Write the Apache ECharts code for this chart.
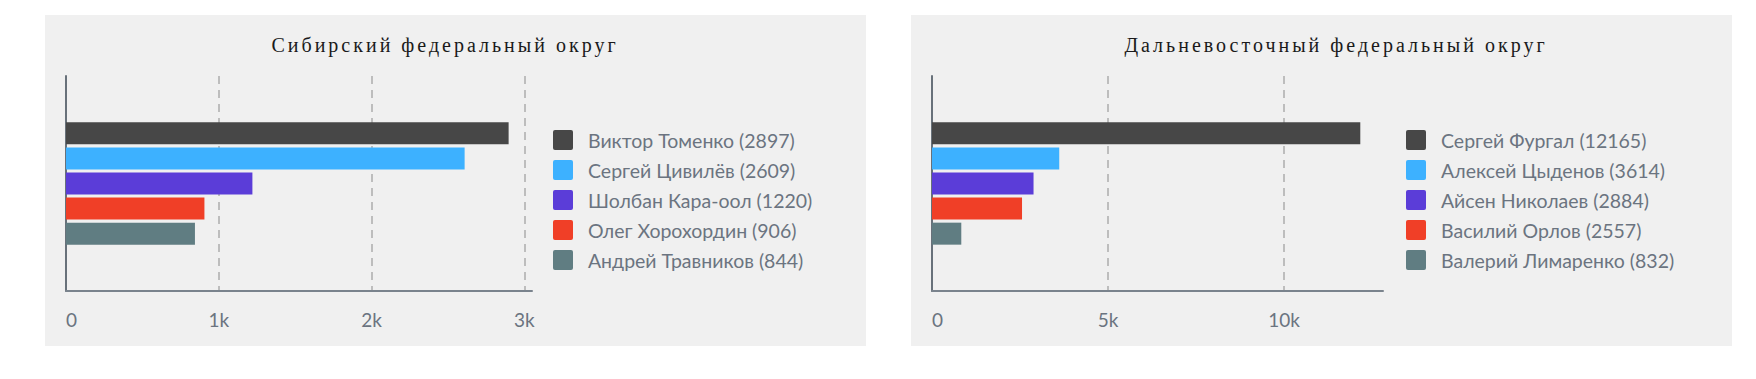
<!DOCTYPE html>
<html><head><meta charset="utf-8">
<script src="https://cdn.jsdelivr.net/npm/echarts@6/dist/echarts.min.js"></script>
<style>
html,body{margin:0;padding:0;background:#fff;width:1756px;height:379px;overflow:hidden;}
.panel{position:absolute;top:15px;width:821px;height:331px;background:#f0f0f0;}
#c1{left:45px}
#c2{left:911px}
svg text[style*="Liberation Serif"], svg text[font-family*="Liberation Serif"]{letter-spacing:3px;}
</style></head><body>
<div id="c1" class="panel"></div><div id="c2" class="panel"></div>
<script>
// ---- data ----
const barColors = ['#474747', '#3db1ff', '#5b3dd8', '#f03f27', '#607d82'];

const siberiaTitle = 'Сибирский федеральный округ';
const siberiaNames = ['Виктор Томенко', 'Сергей Цивилёв', 'Шолбан Кара-оол', 'Олег Хорохордин', 'Андрей Травников'];
const siberiaValues = [2897, 2609, 1220, 906, 844];
const siberiaTicks = [0, 1000, 2000, 3000];

const farEastTitle = 'Дальневосточный федеральный округ';
const farEastNames = ['Сергей Фургал', 'Алексей Цыденов', 'Айсен Николаев', 'Василий Орлов', 'Валерий Лимаренко'];
const farEastValues = [12165, 3614, 2884, 2557, 832];
const farEastTicks = [0, 5000, 10000];

const labelColor = '#6b7480';
const roundRectIcon = 'path://M2,0H18A2,2 0 0 1 20,2V18A2,2 0 0 1 18,20H2A2,2 0 0 1 0,18V2A2,2 0 0 1 2,0Z';

function fmtTick(v) { return v === 0 ? '0' : (v / 1000) + 'k'; }

function build(el, title, titleX, names, values, ticks, axisMax, gridRight, legendLeft) {
  const chart = echarts.init(document.getElementById(el), null, { renderer: 'svg' });
  const interval = ticks[1] - ticks[0];
  chart.setOption({
    animation: false,
    backgroundColor: '#f0f0f0',
    graphic: [{
      type: 'text', x: titleX, y: 30,
      style: { text: title, fill: '#1a1a1a', fontSize: 20, fontFamily: 'Liberation Serif', align: 'center', verticalAlign: 'middle' }
    }],
    grid: { left: 21, top: 61, right: gridRight, bottom: 55, containLabel: false, outerBoundsMode: 'none' },
    legend: {
      orient: 'vertical', left: legendLeft, top: 115, padding: 0,
      itemWidth: 20, itemHeight: 20, itemGap: 10,
      icon: roundRectIcon,
      data: names,
      formatter: function (n) { return n + ' (' + values[names.indexOf(n)] + ')'; },
      textStyle: { fontSize: 19.5, fontFamily: 'Lato', color: labelColor, lineHeight: 20, padding: [0, 0, 0, 10] },
      selectedMode: false
    },
    xAxis: {
      type: 'value', min: ticks[0], max: axisMax, interval: interval,
      axisLine: { show: true, lineStyle: { color: '#7a838d', width: 2 } },
      axisTick: { show: false },
      splitLine: { show: true, showMinLine: false, showMaxLine: false, lineStyle: { color: '#bdbdbd', width: 2, type: [8, 6] } },
      axisLabel: {
        formatter: fmtTick, fontSize: 19, fontFamily: 'Lato', color: labelColor, margin: 19,
        showMaxLabel: false, alignMinLabel: 'left'
      }
    },
    yAxis: {
      type: 'category', data: [''], inverse: true,
      axisLine: { show: true, lineStyle: { color: '#68717a', width: 2 } },
      axisTick: { show: false }, axisLabel: { show: false }, splitLine: { show: false }
    },
    series: names.map(function (n, i) {
      return {
        type: 'bar', name: n, data: [values[i]],
        barWidth: 22, barGap: '14%',
        itemStyle: { color: barColors[i] }
      };
    })
  });
}

build('c1', siberiaTitle, 400, siberiaNames, siberiaValues, siberiaTicks, 3050, 334, 508);
build('c2', farEastTitle, 425, farEastNames, farEastValues, farEastTicks, 12810, 349, 495);
</script>
</body></html>
